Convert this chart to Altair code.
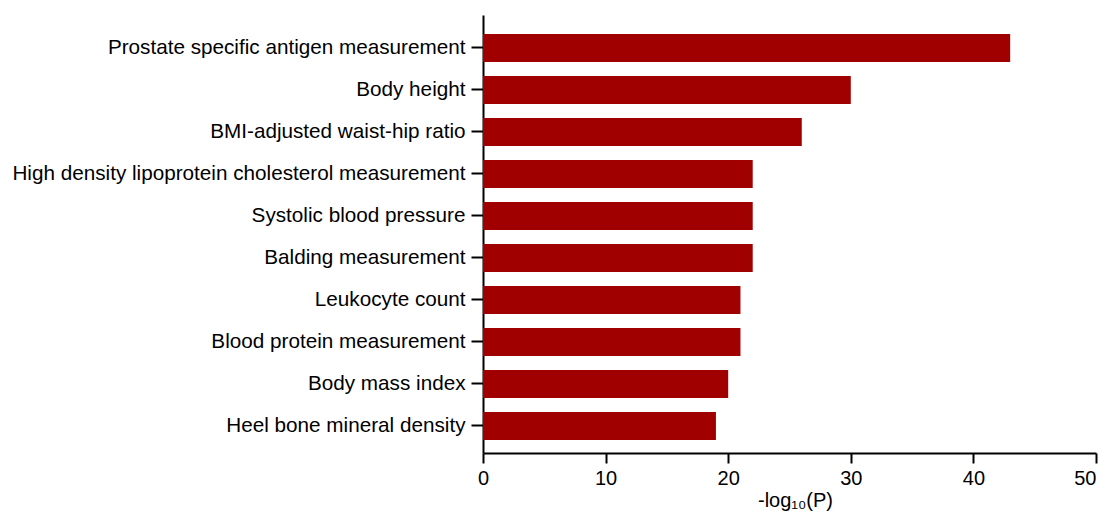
import altair as alt
import pandas as pd

traits = [
    "Prostate specific antigen measurement",
    "Body height",
    "BMI-adjusted waist-hip ratio",
    "High density lipoprotein cholesterol measurement",
    "Systolic blood pressure",
    "Balding measurement",
    "Leukocyte count",
    "Blood protein measurement",
    "Body mass index",
    "Heel bone mineral density",
]
values = [43, 30, 26, 22, 22, 22, 21, 21, 20, 19]
x_ticks = [0, 10, 20, 30, 40, 50]

df = pd.DataFrame({"trait": traits, "value": values})

FONT = "Liberation Sans"

chart = alt.Chart(df).mark_bar(color="#A00000").encode(
    x=alt.X(
        "value:Q",
        scale=alt.Scale(domain=[0, 50], nice=False),
        axis=alt.Axis(
            values=x_ticks,
            title="-log₁₀(P)",
            grid=False,
            tickSize=10,
            labelPadding=5,
            labelFontSize=20,
            labelAlign=alt.condition("datum.value == 50", alt.value("right"), alt.value("center")),
            titlePadding=2,
            titleX=312,
        ),
    ),
    y=alt.Y(
        "trait:N",
        sort=traits,
        scale=alt.Scale(paddingInner=1 / 3, paddingOuter=0.381, align=0.59),
        axis=alt.Axis(title=None, tickSize=12, labelPadding=6, labelLimit=0,
                      labelFontSize=20.7),
    ),
).properties(
    width=613,
    height=438,
    autosize=alt.AutoSizeParams(type="none"),
    padding={"left": 475, "top": 7, "right": 4, "bottom": 60},
).configure_axis(
    labelFont=FONT,
    titleFont=FONT,
    titleFontSize=20,
    titleFontWeight="normal",
    labelColor="black",
    titleColor="black",
    domainColor="black",
    tickColor="black",
    domainWidth=2,
    tickWidth=2,
).configure_view(stroke=None)

chart.save("out.html", embed_options={"renderer": "svg", "actions": False})
